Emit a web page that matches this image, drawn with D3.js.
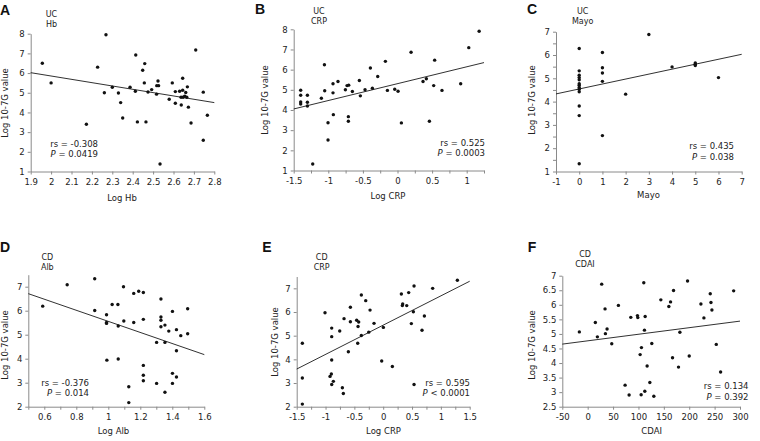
<!DOCTYPE html>
<html><head><meta charset="utf-8">
<script src="https://cdn.jsdelivr.net/npm/d3@7"></script>
<style>
body{margin:0;background:#fff;}
svg{display:block;font-family:"DejaVu Sans",Verdana,sans-serif;}
</style></head>
<body><svg id="c" width="760" height="441"></svg>
<script>
// ---------- DATA ----------
const A_hb  = [1.957,2.0,2.173,2.228,2.269,2.261,2.30,2.33,2.341,2.351,2.387,2.415,2.413,2.423,2.449,2.459,2.457,2.465,2.475,2.493,2.518,2.524,2.527,2.517,2.534,2.579,2.594,2.609,2.609,2.630,2.638,2.637,2.645,2.645,2.647,2.655,2.660,2.665,2.668,2.673,2.686,2.709,2.746,2.746,2.766];
const A_val = [6.50,5.50,3.40,6.30,7.95,5.00,5.28,4.99,4.50,3.72,5.28,6.92,5.08,3.52,6.14,6.48,5.50,3.52,5.04,5.16,5.36,5.60,5.36,4.93,1.38,4.67,5.50,5.06,4.47,5.08,4.38,4.77,5.74,5.13,4.77,4.83,5.01,4.77,5.30,4.27,3.46,7.17,5.03,2.59,3.86];
const A_fitX = [1.9,2.8], A_fitY = [6.02,4.50];

const B_crp = [-1.399,-1.399,-1.399,-1.399,-1.302,-1.302,-1.302,-1.225,-1.100,-1.056,-1.052,-1.004,-1.004,-0.932,-0.932,-0.927,-0.860,-0.753,-0.729,-0.705,-0.710,-0.710,-0.652,-0.551,-0.537,-0.469,-0.392,-0.363,-0.286,-0.175,-0.146,-0.040,0.008,0.056,0.196,0.369,0.417,0.461,0.523,0.537,0.643,0.913,1.03,1.18];
const B_val = [4.98,4.73,4.40,4.30,4.73,4.38,4.20,1.32,4.58,6.24,4.95,3.37,2.51,5.30,4.85,3.77,5.41,5.00,5.21,5.23,3.67,3.44,4.92,5.46,4.70,5.00,6.08,5.08,5.66,6.41,4.97,5.03,4.93,3.36,6.86,5.41,5.55,3.44,5.21,6.47,4.97,5.30,7.09,7.90];
const B_fitX = [-1.5,1.25], B_fitY = [4.05,6.35];

const C_mayo = [0,0,0,0,0,0,0,0,0,0,0,0,0,1,1,1,1,1,2,3,4,5,5,5,6];
const C_val  = [6.28,5.32,5.13,5.03,4.94,4.77,4.70,4.61,4.53,4.42,3.81,3.40,1.33,6.11,5.45,5.23,4.87,2.54,4.32,6.88,5.49,5.66,5.60,5.55,5.03];
const C_fitX = [-1,7], C_fitY = [4.33,6.03];

const D_alb = [0.590,0.743,0.915,0.915,0.989,0.989,0.989,0.991,1.024,1.060,1.062,1.062,1.095,1.097,1.128,1.128,1.159,1.159,1.190,1.219,1.219,1.219,1.219,1.219,1.302,1.302,1.329,1.329,1.329,1.329,1.354,1.354,1.354,1.378,1.401,1.401,1.401,1.426,1.426,1.426,1.453,1.496,1.496];
const D_val = [6.19,7.08,7.33,6.01,5.83,5.51,5.47,3.94,6.26,6.26,5.36,3.99,7.00,5.57,2.83,2.17,6.72,5.51,6.81,6.76,5.64,3.72,3.31,3.08,4.68,2.97,6.49,5.74,5.60,5.33,5.40,4.68,2.60,5.15,5.97,3.39,2.97,5.21,4.33,3.24,4.96,6.08,5.04];
const D_fitX = [0.5,1.6], D_fitY = [6.71,4.17];

const E_crp = [-1.402,-1.402,-1.402,-1.009,-0.922,-0.899,-0.893,-0.893,-0.893,-0.893,-0.864,-0.754,-0.708,-0.691,-0.679,-0.604,-0.569,-0.569,-0.460,-0.425,-0.436,-0.442,-0.379,-0.379,-0.303,-0.228,-0.251,-0.159,0.003,-0.026,0.159,0.315,0.338,0.332,0.408,0.442,0.535,0.523,0.488,0.535,0.714,0.673,0.858,1.286];
const E_val = [4.68,3.21,2.11,5.97,3.28,3.38,4.96,5.32,3.97,2.94,3.07,5.20,2.80,2.56,5.72,4.32,6.20,5.59,5.65,5.58,5.39,4.68,6.72,5.01,6.48,6.08,5.15,5.52,5.35,3.93,3.70,6.76,6.34,6.27,6.27,6.82,7.10,6.01,5.51,2.94,5.83,5.23,7.00,7.34];
const E_fitX = [-1.5,1.5], E_fitY = [3.59,7.30];

const F_cdai = [-16.4,15.1,19.1,27.6,34.2,34.9,38.2,47.4,60.5,73.7,81.6,84.9,98.0,98.7,105.9,103.3,105.3,110.5,113.2,111.8,112.5,117.1,122.4,126.3,130.3,144.1,159.9,163.2,167.1,169.1,178.9,181.6,196.7,200.0,223.0,228.9,241.4,242.8,244.7,253.3,261.8,287.5];
const F_val  = [5.07,5.39,4.90,6.71,5.86,5.01,5.17,4.66,5.98,3.24,2.90,5.57,5.63,5.56,4.53,4.29,2.91,6.76,5.60,5.13,3.03,3.90,3.33,4.67,2.86,6.17,5.94,6.10,4.18,6.49,3.86,5.06,6.82,4.24,6.03,5.55,6.38,6.08,5.82,4.64,3.69,6.48];
const F_fitX = [-50,300], F_fitY = [4.65,5.44];

// tick labels
const A_xTicks = [1.9,2,2.1,2.2,2.3,2.4,2.5,2.6,2.7,2.8], A_yTicks = [1,2,3,4,5,6,7,8];
const B_xTicks = [-1.5,-1,-0.5,0,0.5,1], B_yTicks = [1,2,3,4,5,6,7,8];
const C_xTicks = [-1,0,1,2,3,4,5,6,7], C_yTicks = [1,2,3,4,5,6,7];
const D_xTicks = [0.6,0.8,1,1.2,1.4,1.6], D_yTicks = [2,3,4,5,6,7];
const E_xTicks = [-1.5,-1,-0.5,0,0.5,1,1.5], E_yTicks = [2,3,4,5,6,7];
const F_xTicks = [-50,0,50,100,150,200,250,300], F_yTicks = [2.5,3,3.5,4,4.5,5,5.5,6,6.5,7];

// text
const letters = ["A","B","C","D","E","F"];
const groups = ["UC","UC","UC","CD","CD","CD"];
const vars = ["Hb","CRP","Mayo","Alb","CRP","CDAI"];
const xTitles = ["Log Hb","Log CRP","Mayo","Log Alb","Log CRP","CDAI"];
const yTitle = "Log 10-7G value";
const rsTexts = ["-0.308","0.525","0.435","-0.376","0.595","0.134"];
const pTexts = ["= 0.0419","= 0.0003","= 0.038","= 0.014","< 0.0001","= 0.392"];

// ---------- DRAW ----------
const svg = d3.select("#c");
const fmt = d => String(+d.toFixed(4));

const panels = [
 {x:A_hb,y:A_val,fx:A_fitX,fy:A_fitY,xd:[1.9,2.8],xr:[30.7,214.3],yd:[1,8],yr:[171.5,33.7],xt:A_xTicks,yt:A_yTicks,xm:null,ym:null,
  L:[5,15],G:[51.5,13.5],XT:[122,201],YT:[7.5,103],RS:[98,143.5],anchorRS:"end"},
 {x:B_crp,y:B_val,fx:B_fitX,fy:B_fitY,xd:[-1.5,1.25],xr:[293.7,484],yd:[1,8],yr:[170.5,29.3],xt:B_xTicks,yt:B_yTicks,xm:d3.range(-1.5,1.26,0.25),ym:null,
  L:[260,14],G:[319,10.5],XT:[388,199],YT:[268,100],RS:[485,142.5],anchorRS:"end"},
 {x:C_mayo,y:C_val,fx:C_fitX,fy:C_fitY,xd:[-1,7],xr:[556,741.7],yd:[1,7],yr:[171.5,31.7],xt:C_xTicks,yt:C_yTicks,xm:null,ym:d3.range(1,7.01,0.5),
  L:[532,14],G:[582.7,10.5],XT:[648.5,197.5],YT:[534.5,100],RS:[734,146],anchorRS:"end"},
 {x:D_alb,y:D_val,fx:D_fitX,fy:D_fitY,xd:[0.5,1.6],xr:[28.3,204.3],yd:[2,7.5],yr:[406.7,274.7],xt:D_xTicks,yt:D_yTicks,xm:d3.range(0.5,1.61,0.1),ym:null,
  L:[5,252],G:[47.3,257],XT:[113.5,433.5],YT:[7.5,345],RS:[89,382.5],anchorRS:"end"},
 {x:E_crp,y:E_val,fx:E_fitX,fy:E_fitY,xd:[-1.5,1.5],xr:[296.7,469.7],yd:[2,7.5],yr:[406.7,276.5],xt:E_xTicks,yt:E_yTicks,xm:d3.range(-1.5,1.51,0.25),ym:null,
  L:[267,252],G:[321.7,257],XT:[383.5,433.5],YT:[278,342],RS:[470,382.5],anchorRS:"end"},
 {x:F_cdai,y:F_val,fx:F_fitX,fy:F_fitY,xd:[-50,300],xr:[562.3,740],yd:[2.5,7],yr:[406.7,275.7],xt:F_xTicks,yt:F_yTicks,xm:null,ym:null,
  L:[532,252],G:[585,254],XT:[651.7,433.5],YT:[534.5,345],RS:[748.5,386],anchorRS:"end"}
];

const axisCol = "#8a8a8a", textCol = "#222";

panels.forEach((p,i) => {
  const g = svg.append("g");
  const x = d3.scaleLinear().domain(p.xd).range(p.xr);
  const y = d3.scaleLinear().domain(p.yd).range(p.yr);
  const isMajX = v => p.xt.some(t => Math.abs(t-v) < 1e-6);
  const isMajY = v => p.yt.some(t => Math.abs(t-v) < 1e-6);
  const xVals = p.xm ? p.xm : p.xt;
  const yVals = p.ym ? p.ym : p.yt;

  const xa = g.append("g").attr("transform",`translate(0,${p.yr[0]})`)
    .call(d3.axisBottom(x).tickValues(xVals).tickSize(3).tickSizeOuter(0).tickPadding(4)
      .tickFormat(v => isMajX(v) ? fmt(v) : ""));
  const ya = g.append("g").attr("transform",`translate(${p.xr[0]},0)`)
    .call(d3.axisLeft(y).tickValues(yVals).tickSize(3).tickSizeOuter(0).tickPadding(3)
      .tickFormat(v => isMajY(v) ? fmt(v) : ""));
  [xa,ya].forEach(a => {
    a.select(".domain").attr("stroke",axisCol);
    a.selectAll(".tick line").attr("stroke",axisCol);
    a.selectAll("text").attr("fill",textCol).style("font-size","8.5px").style("font-family","DejaVu Sans, Verdana, sans-serif");
  });

  // regression line
  g.append("line")
    .attr("x1",x(p.fx[0])).attr("y1",y(p.fy[0]))
    .attr("x2",x(p.fx[1])).attr("y2",y(p.fy[1]))
    .attr("stroke","#1a1a1a").attr("stroke-width",0.9);

  // points
  g.selectAll("circle").data(d3.zip(p.x,p.y)).join("circle")
    .attr("cx",d=>x(d[0])).attr("cy",d=>y(d[1])).attr("r",1.7).attr("fill","#111");

  // panel letter
  g.append("text").attr("x",p.L[0]).attr("y",p.L[1]).attr("text-anchor","middle")
    .style("font-family","Liberation Sans, Arial, sans-serif").style("font-weight","bold").style("font-size","14px")
    .attr("fill","#111").text(letters[i]);
  // group / variable
  g.append("text").attr("x",p.G[0]).attr("y",p.G[1]+3).attr("text-anchor","middle")
    .style("font-size","8px").attr("fill",textCol).text(groups[i]);
  g.append("text").attr("x",p.G[0]).attr("y",p.G[1]+13).attr("text-anchor","middle")
    .style("font-size","8px").attr("fill",textCol).text(vars[i]);
  // axis titles
  g.append("text").attr("x",p.XT[0]).attr("y",p.XT[1]).attr("text-anchor","middle")
    .style("font-size","8.5px").attr("fill",textCol).text(xTitles[i]);
  g.append("text").attr("transform",`translate(${p.YT[0]},${p.YT[1]}) rotate(-90)`).attr("text-anchor","middle")
    .style("font-size","8.5px").attr("fill",textCol).text(yTitle);
  // stats
  g.append("text").attr("x",p.RS[0]).attr("y",p.RS[1]+3).attr("text-anchor",p.anchorRS)
    .style("font-size","8.5px").attr("fill",textCol).text("rs = " + rsTexts[i]);
  const pt = g.append("text").attr("x",p.RS[0]).attr("y",p.RS[1]+13.5).attr("text-anchor",p.anchorRS)
    .style("font-size","8.5px").attr("fill",textCol);
  pt.append("tspan").style("font-style","italic").text("P");
  pt.append("tspan").text(" " + pTexts[i]);
});
</script>
</body></html>
